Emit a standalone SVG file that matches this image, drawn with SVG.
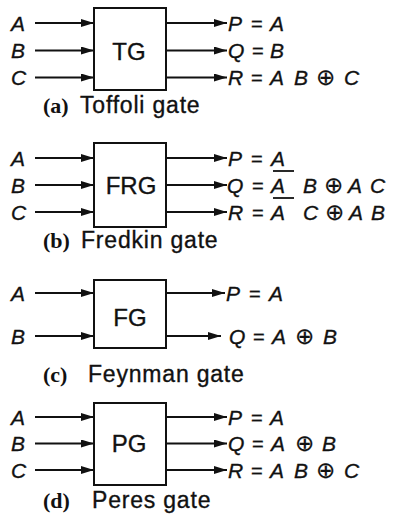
<svg xmlns="http://www.w3.org/2000/svg" width="396" height="519" viewBox="0 0 396 519">
<defs>
<marker id="ah" markerUnits="userSpaceOnUse" markerWidth="14" markerHeight="9" refX="13" refY="4" orient="auto">
<path d="M0,0 L13,4 L0,8 z" fill="#111"/>
</marker>
</defs>
<style>
.box{fill:#fff;stroke:#111;stroke-width:2}
.w{stroke:#111;stroke-width:2.2;fill:none;marker-end:url(#ah)}
.ov{stroke:#111;stroke-width:1.8}
text{fill:#111;stroke:#111;stroke-width:0.35;font-family:"Liberation Sans","DejaVu Sans",sans-serif}
.v{font-style:italic;font-size:21px}
.eq{font-size:20px}
.x{font-family:"DejaVu Sans",sans-serif;font-size:23px;stroke-width:0.2}
.g{font-size:24px}
.cap{font-size:23px;letter-spacing:0.8px}
.lt{font-family:"Liberation Serif",serif;font-weight:bold;font-size:22px;stroke-width:0}
</style>
<rect width="396" height="519" fill="#fff"/>

<g id="connectors">
<line class="w" x1="35" y1="23" x2="94" y2="23"/>
<line class="w" x1="35" y1="50.5" x2="94" y2="50.5"/>
<line class="w" x1="35" y1="77.5" x2="94" y2="77.5"/>
<line class="w" x1="166" y1="23" x2="227" y2="23"/>
<line class="w" x1="166" y1="50.5" x2="227" y2="50.5"/>
<line class="w" x1="166" y1="77.5" x2="227" y2="77.5"/>

<line class="w" x1="35" y1="158" x2="94" y2="158"/>
<line class="w" x1="35" y1="185" x2="94" y2="185"/>
<line class="w" x1="35" y1="212" x2="94" y2="212"/>
<line class="w" x1="166" y1="158" x2="227" y2="158"/>
<line class="w" x1="166" y1="185" x2="227" y2="185"/>
<line class="w" x1="166" y1="212" x2="227" y2="212"/>

<line class="w" x1="35" y1="293" x2="94" y2="293"/>
<line class="w" x1="35" y1="336" x2="94" y2="336"/>
<line class="w" x1="166" y1="293" x2="225" y2="293"/>
<line class="w" x1="166" y1="336" x2="221" y2="336"/>

<line class="w" x1="35" y1="417" x2="94" y2="417"/>
<line class="w" x1="35" y1="443.5" x2="94" y2="443.5"/>
<line class="w" x1="35" y1="470" x2="94" y2="470"/>
<line class="w" x1="166" y1="417" x2="227" y2="417"/>
<line class="w" x1="166" y1="443.5" x2="227" y2="443.5"/>
<line class="w" x1="166" y1="470" x2="227" y2="470"/>
</g>

<g id="toffoli">
<rect class="box" x="94" y="8" width="72" height="82"/>
<text class="g" x="129" y="60" text-anchor="middle">TG</text>
<text class="v" x="11" y="30.5">A</text>
<text class="v" x="11" y="58">B</text>
<text class="v" x="11" y="85">C</text>
<text y="30.5"><tspan class="v" x="228">P</tspan><tspan class="eq" x="251">=</tspan><tspan class="v" x="270">A</tspan></text>
<text y="58"><tspan class="v" x="228">Q</tspan><tspan class="eq" x="252">=</tspan><tspan class="v" x="270">B</tspan></text>
<text y="85"><tspan class="v" x="228">R</tspan><tspan class="eq" x="251">=</tspan><tspan class="v" x="270">A</tspan><tspan class="v" x="294">B</tspan><tspan class="x" x="316">⊕</tspan><tspan class="v" x="344">C</tspan></text>
<text y="113"><tspan class="lt" x="43">(a)</tspan><tspan class="cap" x="80">Toffoli gate</tspan></text>
</g>

<g id="fredkin">
<rect class="box" x="94" y="143" width="72" height="84"/>
<text class="g" x="131" y="194" text-anchor="middle">FRG</text>
<text class="v" x="11" y="165.5">A</text>
<text class="v" x="11" y="192.5">B</text>
<text class="v" x="11" y="219.5">C</text>
<text y="165.5"><tspan class="v" x="228">P</tspan><tspan class="eq" x="251">=</tspan><tspan class="v" x="271">A</tspan></text>
<text y="192.5"><tspan class="v" x="227">Q</tspan><tspan class="eq" x="252">=</tspan><tspan class="v" x="271">A</tspan><tspan class="v" x="303">B</tspan><tspan class="x" x="324">⊕</tspan><tspan class="v" x="348">A</tspan><tspan class="v" x="370">C</tspan></text>
<line class="ov" x1="273" y1="171" x2="294" y2="171"/>
<text y="219.5"><tspan class="v" x="228">R</tspan><tspan class="eq" x="252">=</tspan><tspan class="v" x="271">A</tspan><tspan class="v" x="303">C</tspan><tspan class="x" x="325">⊕</tspan><tspan class="v" x="349">A</tspan><tspan class="v" x="371">B</tspan></text>
<line class="ov" x1="273" y1="198" x2="294" y2="198"/>
<text y="248"><tspan class="lt" x="43">(b)</tspan><tspan class="cap" x="81">Fredkin gate</tspan></text>
</g>

<g id="feynman">
<rect class="box" x="94" y="280" width="72" height="68"/>
<text class="g" x="130" y="326" text-anchor="middle">FG</text>
<text class="v" x="11" y="300.5">A</text>
<text class="v" x="11" y="343.5">B</text>
<text y="300.5"><tspan class="v" x="226">P</tspan><tspan class="eq" x="249">=</tspan><tspan class="v" x="269">A</tspan></text>
<text y="343.5"><tspan class="v" x="229">Q</tspan><tspan class="eq" x="253">=</tspan><tspan class="v" x="272">A</tspan><tspan class="x" x="295">⊕</tspan><tspan class="v" x="323">B</tspan></text>
<text y="382"><tspan class="lt" x="43">(c)</tspan><tspan class="cap" x="88">Feynman gate</tspan></text>
</g>

<g id="peres">
<rect class="box" x="94" y="403" width="72" height="82"/>
<text class="g" x="129" y="452" text-anchor="middle">PG</text>
<text class="v" x="11" y="424.5">A</text>
<text class="v" x="11" y="451">B</text>
<text class="v" x="11" y="477.5">C</text>
<text y="424.5"><tspan class="v" x="228">P</tspan><tspan class="eq" x="251">=</tspan><tspan class="v" x="270">A</tspan></text>
<text y="451"><tspan class="v" x="228">Q</tspan><tspan class="eq" x="252">=</tspan><tspan class="v" x="271">A</tspan><tspan class="x" x="295">⊕</tspan><tspan class="v" x="322">B</tspan></text>
<text y="477.5"><tspan class="v" x="228">R</tspan><tspan class="eq" x="251">=</tspan><tspan class="v" x="270">A</tspan><tspan class="v" x="294">B</tspan><tspan class="x" x="316">⊕</tspan><tspan class="v" x="344">C</tspan></text>
<text y="508"><tspan class="lt" x="43">(d)</tspan><tspan class="cap" x="92">Peres gate</tspan></text>
</g>
</svg>
